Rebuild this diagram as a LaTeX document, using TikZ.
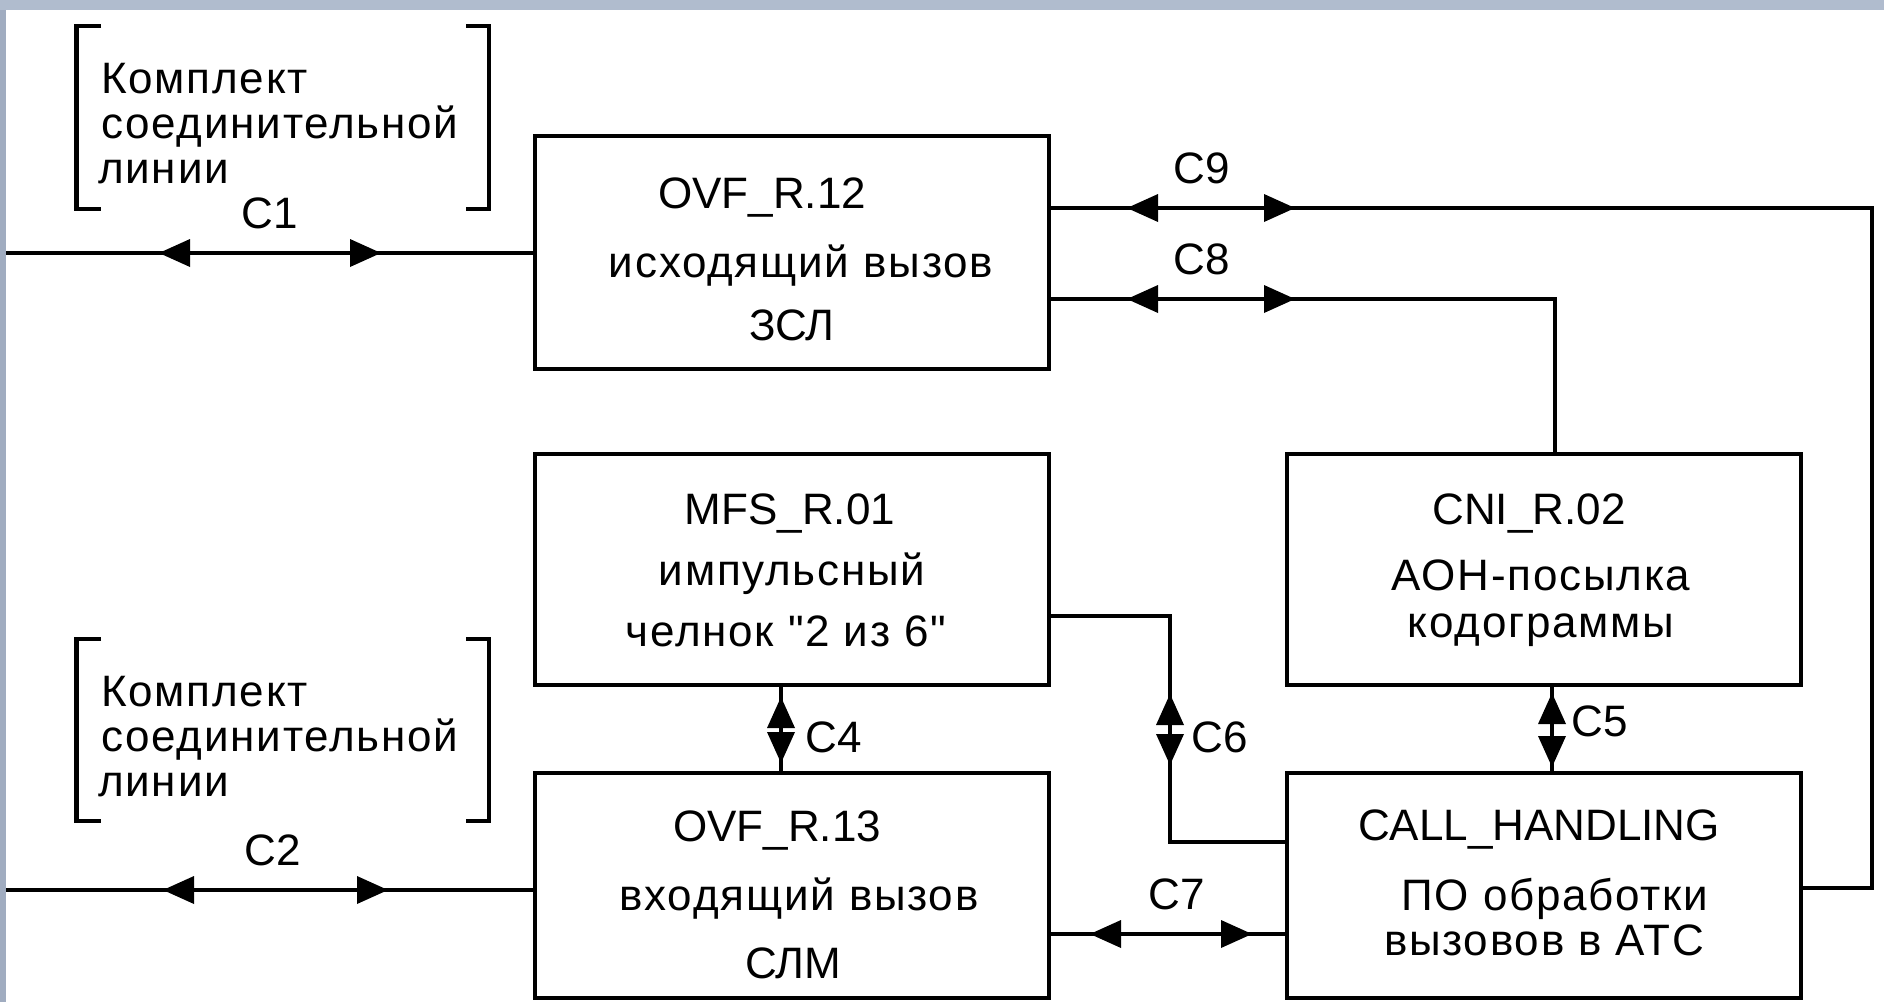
\documentclass[tikz,border=0pt]{standalone}
\usepackage{fontspec}
\setmainfont{Liberation Sans}
\newfontfamily\spc[LetterSpace=4]{Liberation Sans}
\usetikzlibrary{decorations.markings}
\definecolor{topbar}{RGB}{176,188,206}
\definecolor{leftbar}{RGB}{160,172,192}
\tikzset{
  blk/.style={draw, line width=4pt, inner sep=0pt, minimum width=514pt},
  conn/.style={line width=4.2pt},
  lnthin/.style={line width=3.2pt},
  brk/.style={line width=4.2pt},
  txt/.style={anchor=base, inner sep=0pt, font=\fontsize{44}{52}\selectfont},
  ltxt/.style={anchor=base, inner sep=0pt, font=\spc\fontsize{44}{52}\selectfont},
  btxt/.style={anchor=base west, inner sep=0pt, font=\spc\fontsize{44}{52}\selectfont},
  tipb/.style={postaction={decorate,decoration={markings,mark=at position #1 with {\fill (0,0)--(31,14)--(31,-14)--cycle;}}}},
  tipf/.style={postaction={decorate,decoration={markings,mark=at position #1 with {\fill (0,0)--(-31,14)--(-31,-14)--cycle;}}}},
}
\begin{document}
\begin{tikzpicture}[x=1pt,y=-1pt]
\useasboundingbox (0,0) rectangle (1884,1002);
\fill[white] (0,0) rectangle (1884,1002);
\fill[topbar] (0,0) rectangle (1884,10);
\fill[leftbar] (0,10) rectangle (6,1002);

% boxes
\node[blk, minimum height=233pt] (ovf12) at (792,252.5) {};
\node[blk, minimum height=231pt] (mfs) at (792,569.5) {};
\node[blk, minimum height=231pt] (cni) at (1544,569.5) {};
\node[blk, minimum height=225pt] (ovf13) at (792,885.5) {};
\node[blk, minimum height=225pt] (ch) at (1544,885.5) {};

% box texts
\node[txt] (t1a) at (762,208) {OVF\_R.12};
\node[ltxt] (t1b) at (801,277) {исходящий вызов};
\node[txt] (t1c) at (792,340) {ЗСЛ};

\node[txt] (t2a) at (790,524) {MFS\_R.01};
\node[ltxt] (t2b) at (792,585) {импульсный};
\node[ltxt] (t2c) at (786,646) {челнок "2 из 6"};

\node[txt] (t3a) at (1529,524) {CNI\_R.02};
\node[ltxt] (t3b) at (1541,590) {АОН-посылка};
\node[ltxt] (t3c) at (1541,637) {кодограммы};

\node[txt] (t4a) at (777,841) {OVF\_R.13};
\node[ltxt] (t4b) at (799,910) {входящий вызов};
\node[txt] (t4c) at (793,978) {СЛМ};

\node[txt] (t5a) at (1539,840) {CALL\_HANDLING};
\node[ltxt] (t5b) at (1555,910) {ПО обработки};
\node[ltxt] (t5c) at (1544,955) {вызовов в АТС};

% brackets
\draw[brk] (101,26) -- (76.5,26) -- (76.5,209) -- (101,209);
\draw[brk] (466,26) -- (489,26) -- (489,209) -- (466,209);
\node[btxt] (k1a) at (101,93) {Комплект};
\node[btxt] (k1b) at (101,138) {соединительной};
\node[btxt] (k1c) at (98,183) {линии};

\draw[brk] (101,639) -- (76.5,639) -- (76.5,821) -- (101,821);
\draw[brk] (466,639) -- (489,639) -- (489,821) -- (466,821);
\node[btxt] (k2a) at (101,706) {Комплект};
\node[btxt] (k2b) at (101,751) {соединительной};
\node[btxt] (k2c) at (98,796) {линии};

% labels
\node[txt] (l1) at (270,228) {C1};
\node[txt] (l2) at (273,865) {C2};
\node[txt] (l9) at (1202,183) {C9};
\node[txt] (l8) at (1202,274) {C8};
\node[txt] (l7) at (1177,909) {C7};
\node[txt] (l4) at (834,752) {C4};
\node[txt] (l6) at (1220,752) {C6};
\node[txt] (l5) at (1600,736) {C5};

% connectors
\coordinate (c1s) at (6,253);
\draw[conn, tipb=153pt, tipf=375pt] (c1s) -- (c1s -| ovf12.west);
\coordinate (c2s) at (6,890);
\draw[conn, tipb=157pt, tipf=382pt] (c2s) -- (c2s -| ovf13.west);
\coordinate (c9a) at (1872,208);
\coordinate (c9b) at (1872,888);
\draw[conn, tipb=76pt, tipf=244pt] (c9a -| ovf12.east) -- (c9a) -- (c9b) -- (c9b -| ch.east);
\coordinate (c8a) at (1555,299);
\draw[lnthin, tipb=76pt, tipf=244pt] (c8a -| ovf12.east) -- (c8a) -- (c8a |- cni.north);
\coordinate (c4x) at (781,700);
\draw[conn, tipb=10pt, tipf=76pt] (c4x |- mfs.south) -- (c4x |- ovf13.north);
\coordinate (c6a) at (1170,616);
\coordinate (c6b) at (1170,842);
\draw[lnthin, tipb=197pt, tipf=268pt] (c6a -| mfs.east) -- (c6a) -- (c6b) -- (c6b -| ch.west);
\coordinate (c5x) at (1552,700);
\draw[conn, tipb=6pt, tipf=80pt] (c5x |- cni.south) -- (c5x |- ch.north);
\coordinate (c7y) at (1100,934);
\draw[conn, tipb=39pt, tipf=201pt] (c7y -| ovf13.east) -- (c7y -| ch.west);
\end{tikzpicture}
\end{document}
